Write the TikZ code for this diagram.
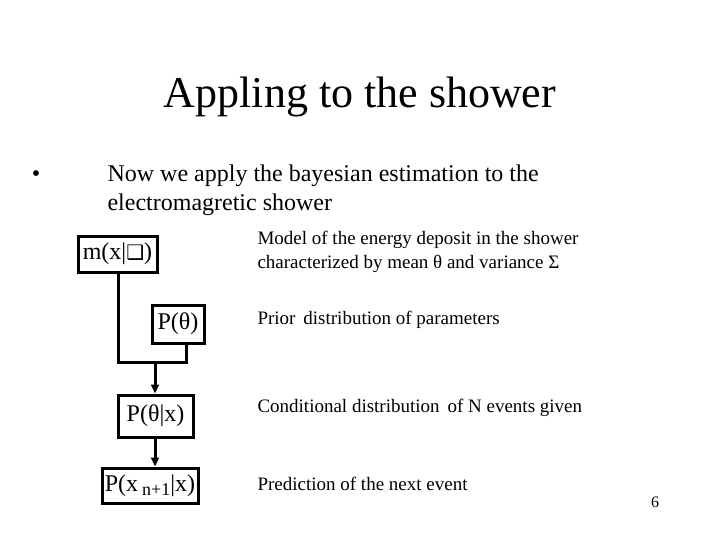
\documentclass[tikz,border=0pt]{standalone}
\usepackage{fontspec}
\setmainfont{Liberation Serif}
\newfontfamily\dejavu{DejaVu Sans}
\usetikzlibrary{arrows.meta}
\begin{document}
\begin{tikzpicture}[x=1pt,y=-1pt,
  bx/.style={draw,line width=3pt,inner sep=0pt,font=\fontsize{24}{26}\selectfont},
  ln/.style={line width=3pt},
  ar/.style={line width=3pt,-{Triangle[length=9pt,width=8pt]}},
  lab/.style={anchor=west,align=left,font=\fontsize{19}{24}\selectfont}]
\useasboundingbox (0,0) rectangle (720,540);
\node[font=\fontsize{44}{48}\selectfont] (title) at (360,97) {Appling to the shower};
\node[font=\fontsize{24}{28}\selectfont] (bul) at (36,176) {•};
\node[anchor=north west,align=left,font=\fontsize{24}{29}\selectfont] (txt) at (104,161) {Now we apply the bayesian estimation to the\\electromagretic shower};
\node[bx,minimum width=79pt,minimum height=36pt] (m) at (117.5,254) {m(x|{\dejavu\fontsize{20}{20}\selectfont ❑})};
\node[bx,minimum width=52pt,minimum height=38pt] (p) at (178,324) {P(θ)};
\node[bx,minimum width=75pt,minimum height=42pt] (pc) at (155.5,416) {P(θ|x)};
\node[bx,minimum width=96pt,minimum height=35pt] (pn) at (150,485.5) {P(x\,\raisebox{-4pt}{\fontsize{18}{18}\selectfont n+1}|x)};
\coordinate (jl) at (118,362);
\coordinate (jr) at (186,362);
\coordinate (jm) at (155,362);
\draw[ln] (m.south -| jl) -- (jl) -- (jr) -- (p.south -| jr);
\draw[ar] (jm) -- (pc.north -| jm);
\draw[ar] (pc.south -| jm) -- (pn.north -| jm);
\node[lab] (l1) at (254,252) {Model of the energy deposit in the shower\\characterized by mean θ and variance Σ};
\node[lab] (l2) at (254,320) {Prior\, distribution of parameters};
\node[lab] (l3) at (254,408) {Conditional distribution\, of N events given};
\node[lab] (l4) at (254,484) {Prediction of the next event};
\node[font=\fontsize{16}{18}\selectfont] (pg) at (655,502) {6};
\end{tikzpicture}
\end{document}
